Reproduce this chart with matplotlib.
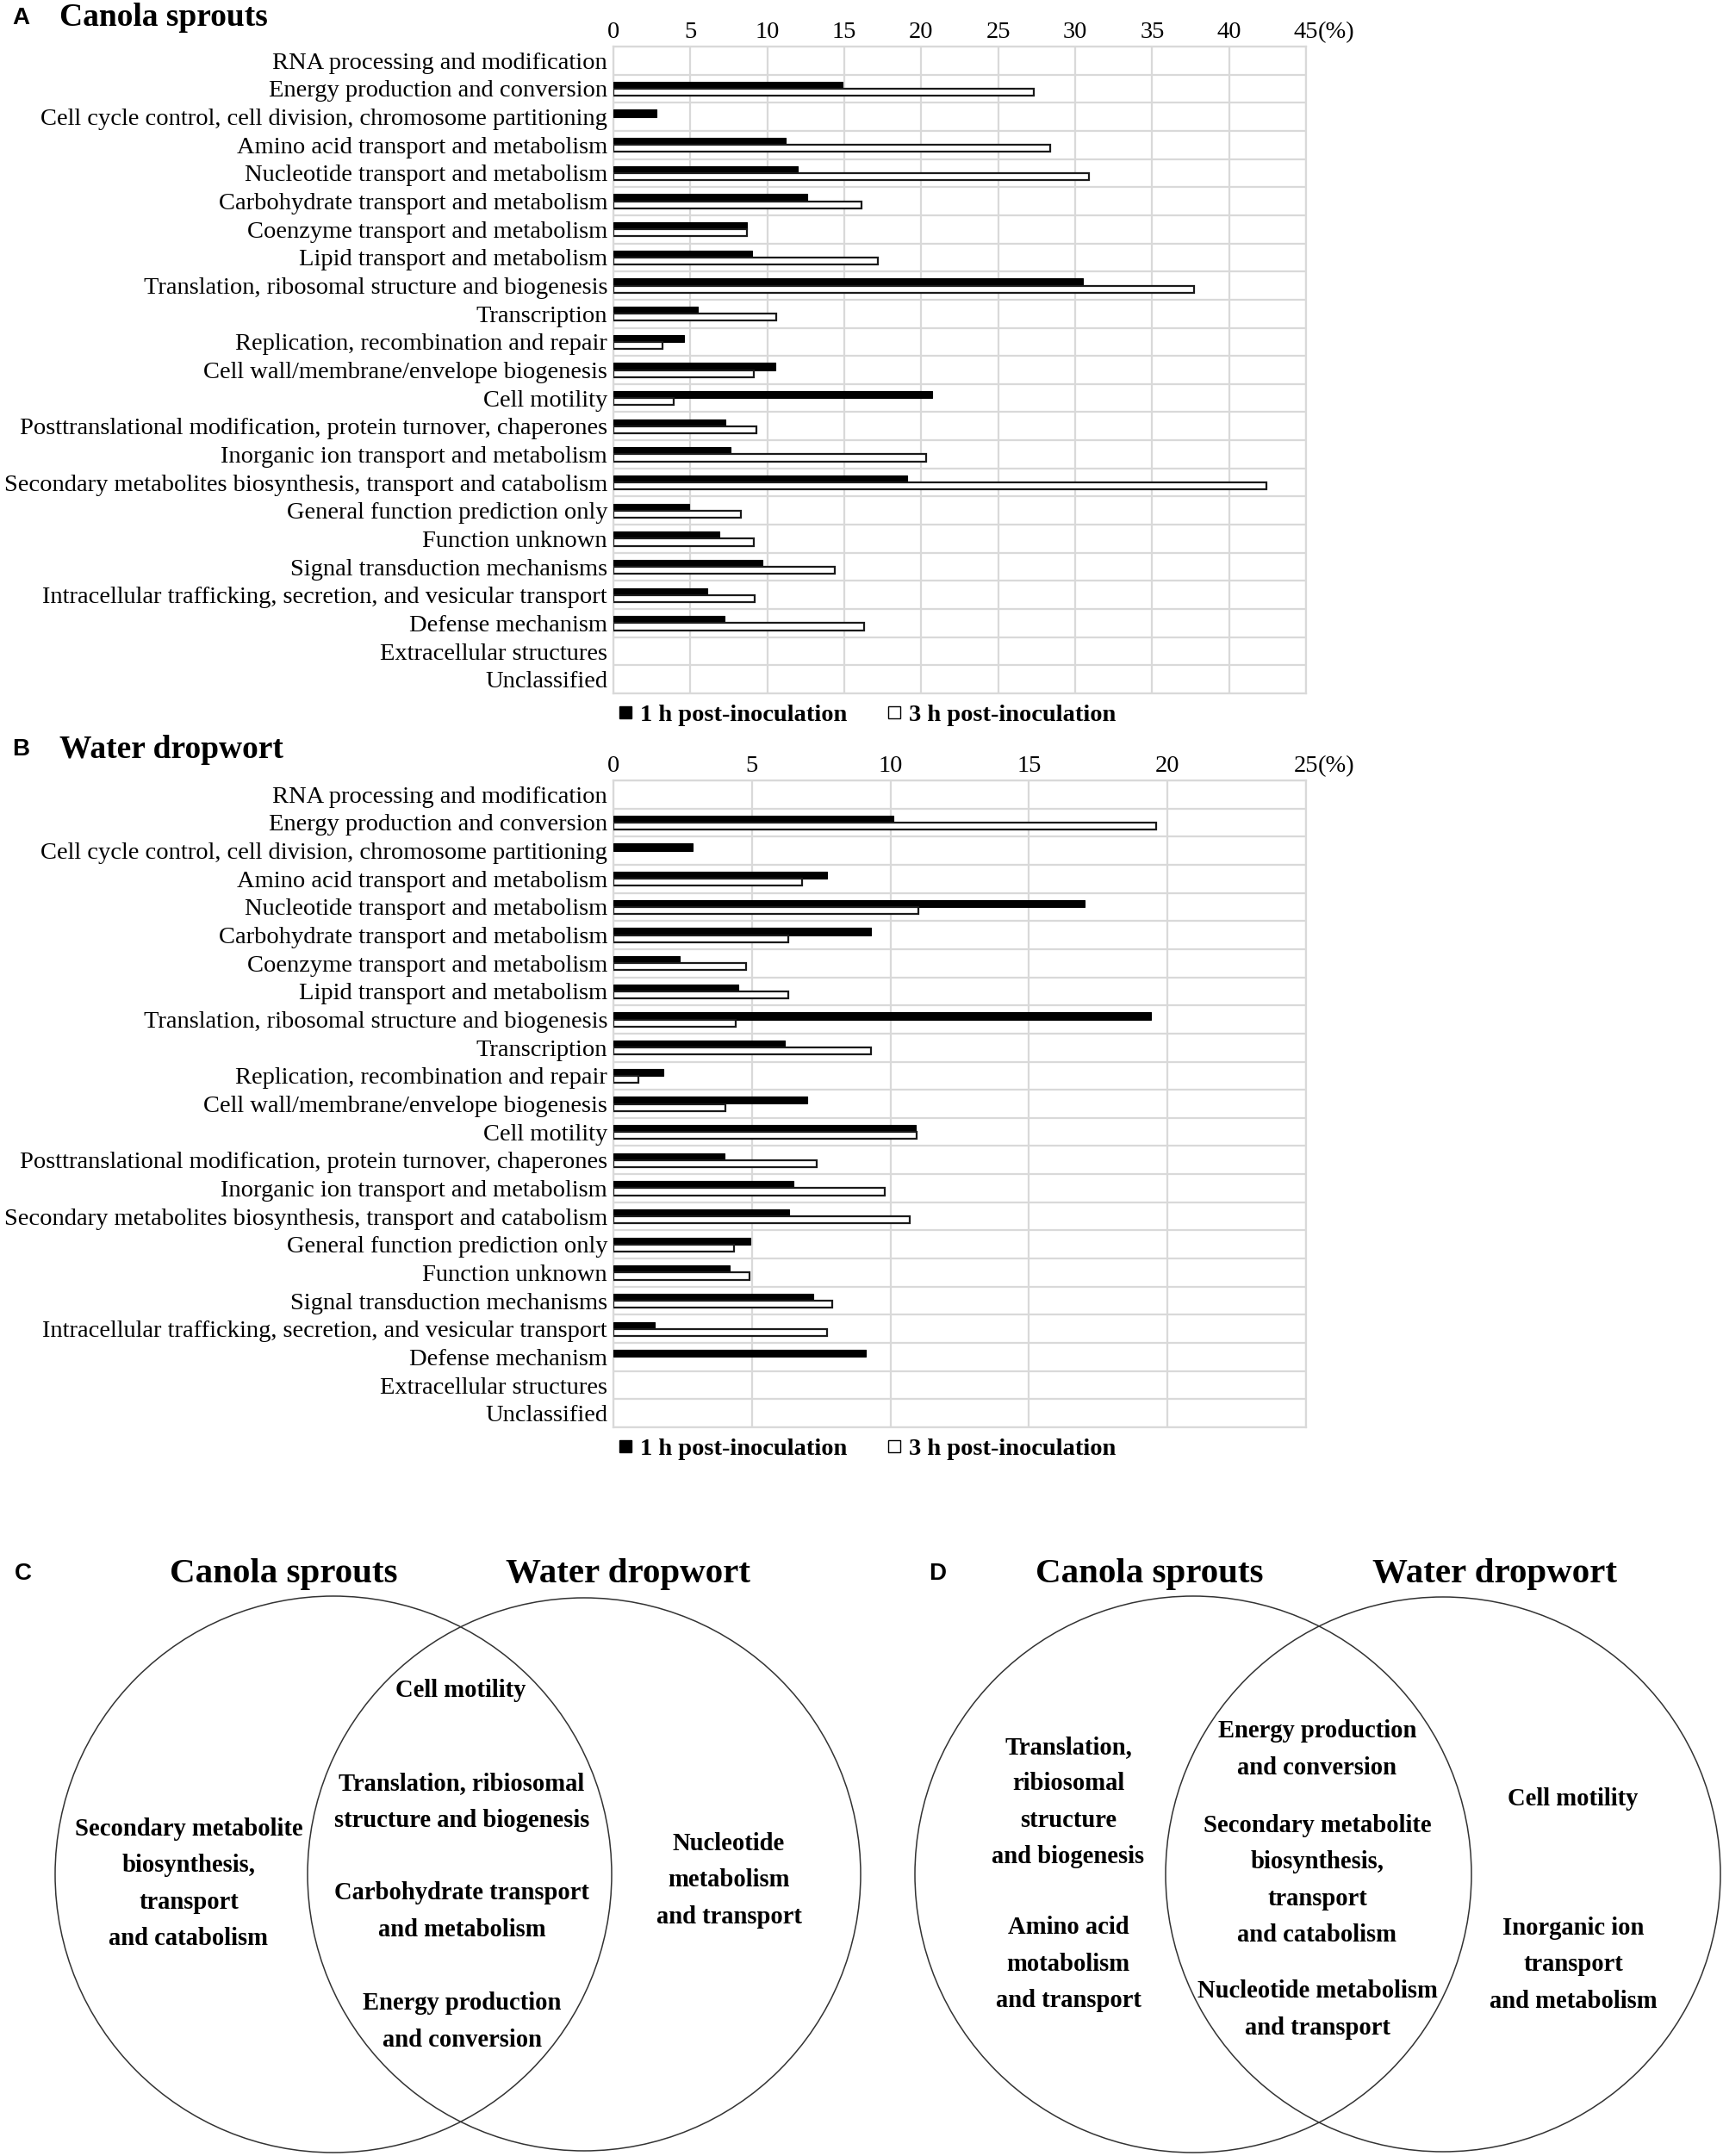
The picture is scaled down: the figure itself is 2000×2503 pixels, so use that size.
import matplotlib
matplotlib.use("Agg")
import matplotlib.pyplot as plt
import numpy as np
from matplotlib.lines import Line2D
from matplotlib.patches import Circle

# COG categories, top to bottom
categories = [
    "RNA processing and modification",
    "Energy production and conversion",
    "Cell cycle control, cell division, chromosome partitioning",
    "Amino acid transport and metabolism",
    "Nucleotide transport and metabolism",
    "Carbohydrate transport and metabolism",
    "Coenzyme transport and metabolism",
    "Lipid transport and metabolism",
    "Translation, ribosomal structure and biogenesis",
    "Transcription",
    "Replication, recombination and repair",
    "Cell wall/membrane/envelope biogenesis",
    "Cell motility",
    "Posttranslational modification, protein turnover, chaperones",
    "Inorganic ion transport and metabolism",
    "Secondary metabolites biosynthesis, transport and catabolism",
    "General function prediction only",
    "Function unknown",
    "Signal transduction mechanisms",
    "Intracellular trafficking, secretion, and vesicular transport",
    "Defense mechanism",
    "Extracellular structures",
    "Unclassified",
]

# percent of genes
canola_1h = [0, 14.9, 2.8, 11.2, 12.0, 12.6, 8.7, 9.0, 30.5, 5.5, 4.6, 10.5,
             20.7, 7.3, 7.6, 19.1, 4.9, 6.9, 9.7, 6.1, 7.2, 0, 0]
canola_3h = [0, 27.3, 0, 28.4, 30.9, 16.1, 8.7, 17.2, 37.7, 10.6, 3.2, 9.1,
             3.9, 9.3, 20.3, 42.4, 8.3, 9.1, 14.4, 9.2, 16.3, 0, 0]
dropwort_1h = [0, 10.1, 2.85, 7.7, 17.0, 9.3, 2.4, 4.5, 19.4, 6.2, 1.8, 7.0,
               10.9, 4.0, 6.5, 6.35, 4.95, 4.2, 7.2, 1.5, 9.1, 0, 0]
dropwort_3h = [0, 19.6, 0, 6.8, 11.0, 6.3, 4.8, 6.3, 4.4, 9.3, 0.9, 4.05,
               10.95, 7.35, 9.8, 10.7, 4.35, 4.9, 7.9, 7.7, 0, 0, 0]

series_labels = ["1 h post-inoculation", "3 h post-inoculation"]

# Venn panels: terms in each region
c_left_terms = ["Secondary metabolite\nbiosynthesis,\ntransport\nand catabolism"]
c_shared_terms = ["Cell motility",
                  "Translation, ribiosomal\nstructure and biogenesis",
                  "Carbohydrate transport\nand metabolism",
                  "Energy production\nand conversion"]
c_right_terms = ["Nucleotide\nmetabolism\nand transport"]

d_left_terms = ["Translation,\nribiosomal\nstructure\nand biogenesis",
                "Amino acid\nmotabolism\nand transport"]
d_shared_terms = ["Energy production\nand conversion",
                  "Secondary metabolite\nbiosynthesis,\ntransport\nand catabolism",
                  "Nucleotide metabolism\nand transport"]
d_right_terms = ["Cell motility",
                 "Inorganic ion\ntransport\nand metabolism"]

SERIF = "Liberation Serif"
SANS = "Liberation Sans"
GRID = "#d9d9d9"
FS = 20.5
W, H = 2000, 2503

fig = plt.figure(figsize=(W / 100, H / 100), dpi=100)


def px_rect(x0, y0, x1, y1):
    return [x0 / W, 1 - y1 / H, (x1 - x0) / W, (y1 - y0) / H]


def bar_panel(rect, vals_1h, vals_3h, xmax):
    ax = fig.add_axes(rect)
    n = len(categories)
    y = np.arange(n)
    h = 0.25
    v1 = np.asarray(vals_1h, dtype=float)
    v3 = np.asarray(vals_3h, dtype=float)
    # zero-length bars get no outline, as in the original
    ax.barh(y - h / 2, v1, height=h, color="black", edgecolor="black",
            linewidth=np.where(v1 > 0, 0.8, 0.0), zorder=3)
    ax.barh(y + h / 2, v3, height=h, color="white", edgecolor="#1a1a1a",
            linewidth=np.where(v3 > 0, 1.6, 0.0), zorder=3)
    ax.set_ylim(n - 0.5, -0.5)
    ax.set_xlim(0, xmax)

    ticks = np.arange(0, xmax + 1, 5)
    ax.set_xticks(ticks)
    ax.set_xticklabels([f"{t:g}" for t in ticks], family=SERIF, fontsize=FS)
    ax.xaxis.tick_top()
    ax.tick_params(axis="x", length=0, pad=3)
    ax.annotate("(%)", xy=(xmax, 1), xycoords=("data", "axes fraction"),
                xytext=(10.2, 3), textcoords="offset points",
                ha="left", va="bottom", family=SERIF, fontsize=FS)

    ax.set_yticks(y)
    ax.set_yticklabels(categories, family=SERIF, fontsize=FS)
    ax.tick_params(axis="y", length=0, pad=5)
    ax.set_yticks(np.arange(n + 1) - 0.5, minor=True)
    ax.tick_params(which="minor", length=0)
    ax.grid(True, which="minor", axis="y", color=GRID, linewidth=1.6)
    ax.grid(True, which="major", axis="x", color=GRID, linewidth=1.6)
    ax.grid(False, which="major", axis="y")
    ax.set_axisbelow(True)
    for s in ax.spines.values():
        s.set_color(GRID)
        s.set_linewidth(1.6)

    handles = [
        Line2D([], [], marker="s", ls="none", markersize=9.5, markerfacecolor="black", markeredgecolor="black"),
        Line2D([], [], marker="s", ls="none", markersize=9.5, markerfacecolor="white",
               markeredgecolor="black", markeredgewidth=1.0),
    ]
    ax.legend(handles, series_labels, loc="upper left", bbox_to_anchor=(0.0, -0.009),
              ncol=2, frameon=False, handlelength=0.6, handletextpad=0.3,
              columnspacing=1.6, borderaxespad=0.1, borderpad=0.1,
              prop={"family": SERIF, "weight": "bold", "size": FS})
    return ax


bar_panel(px_rect(712, 54, 1516, 805), canola_1h, canola_3h, 45)
bar_panel(px_rect(712, 906, 1516, 1657), dropwort_1h, dropwort_3h, 25)

# overlay in pixel units for panel letters, titles and Venn diagrams
ov = fig.add_axes([0, 0, 1, 1])
ov.set_xlim(0, W)
ov.set_ylim(H, 0)
ov.axis("off")
ov.patch.set_alpha(0)

letter_kw = dict(family=SANS, weight="bold", fontsize=20, ha="left", va="center")
title_kw = dict(family=SERIF, weight="bold", fontsize=27, va="center")
venn_title_kw = dict(family=SERIF, weight="bold", fontsize=29.5, va="center", ha="center")
term_kw = dict(family=SERIF, weight="bold", fontsize=20.6, ha="center", va="center", linespacing=1.72)

ov.text(14, 21, "A", **letter_kw)
ov.text(69, 21, "Canola sprouts", ha="left", **title_kw)
ov.text(14, 870, "B", **letter_kw)
ov.text(69, 870, "Water dropwort", ha="left", **title_kw)


def venn(letter, lx, title_x, cx_left, cx_right, r_left, r_right, cy,
         left_terms, left_pos, shared_terms, shared_pos, right_terms, right_pos):
    ov.text(lx, 1827, letter, **letter_kw)
    ov.text(title_x[0], 1827, "Canola sprouts", **venn_title_kw)
    ov.text(title_x[1], 1827, "Water dropwort", **venn_title_kw)
    ov.add_patch(Circle((cx_left, cy), r_left, fill=False, edgecolor="#333333", linewidth=1.1))
    ov.add_patch(Circle((cx_right, cy), r_right, fill=False, edgecolor="#333333", linewidth=1.1))
    for terms, pos in [(left_terms, left_pos), (shared_terms, shared_pos), (right_terms, right_pos)]:
        for term, (x, y) in zip(terms, pos):
            ov.text(x, y, term, **term_kw)


venn("C", 17, (329, 729), 387, 678, 323, 321, 2176,
     c_left_terms, [(219, 2187)],
     c_shared_terms, [(535, 1963), (536, 2092), (536, 2219), (536, 2347)],
     c_right_terms, [(846, 2183)])
venn("D", 1078, (1334, 1735), 1385, 1675, 323, 322, 2176,
     d_left_terms, [(1240, 2092), (1240, 2280)],
     d_shared_terms, [(1529, 2031), (1529, 2183), (1529, 2333)],
     d_right_terms, [(1826, 2089), (1826, 2281)])

fig.savefig("out.png", dpi=100, facecolor="white")
